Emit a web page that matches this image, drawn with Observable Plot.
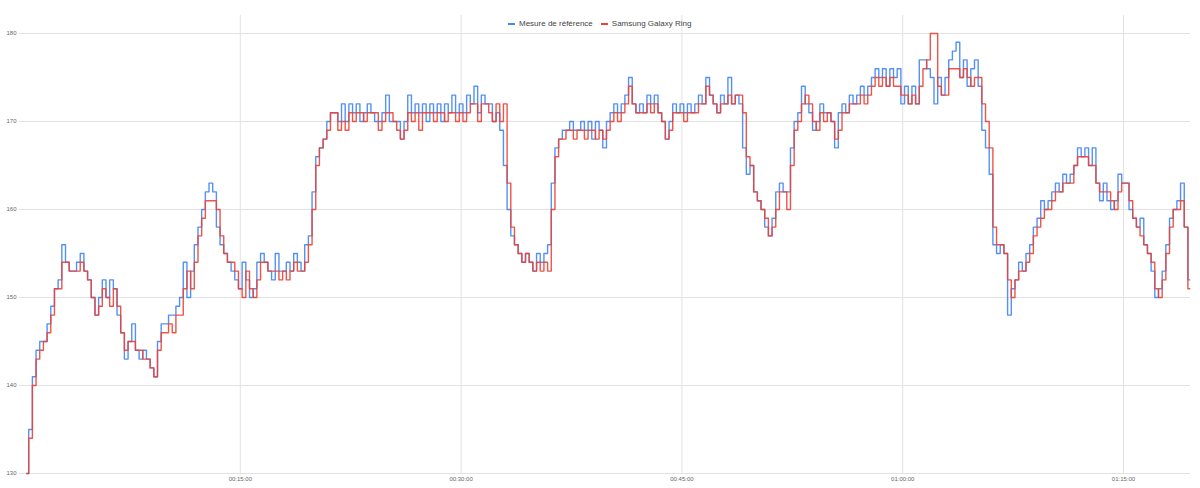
<!DOCTYPE html>
<html>
<head>
<meta charset="utf-8">
<script src="https://cdn.jsdelivr.net/npm/d3@7"></script>
<script src="https://cdn.jsdelivr.net/npm/@observablehq/plot@0.6"></script>
<style>
  html, body { margin: 0; padding: 0; background: #fff; }
  #wrap { position: relative; width: 1200px; height: 488px; font-family: Arial, "Liberation Sans", sans-serif; }
  #legend { position: absolute; top: 19px; left: 508px; display: flex; align-items: center; font-size: 8px; color: #444; line-height: 10px; white-space: nowrap; }
  #legend .sw { display: inline-block; width: 7px; height: 2.5px; margin-right: 4px; }
  #legend .item { display: flex; align-items: center; margin-right: 8px; }
</style>
</head>
<body>
<div id="wrap">
  <div id="chart"></div>
  <div id="legend"></div>
</div>
<script>
// Series names
const seriesNames = ["Mesure de référence", "Samsung Galaxy Ring"];
const seriesColors = ["#4285F4", "#EA4335"];

// Sampling: first sample time (s) and interval (s)
const startSec = 30;
const stepSec = 15;

// Reference measurement (bpm)
const reference = [
130,135,141,144,145,145,147,149,151,152,
156,154,153,153,154,155,153,152,150,148,
150,152,150,152,151,148,146,143,145,147,
144,143,144,143,142,141,145,147,147,148,
148,149,150,154,150,153,156,158,160,162,
163,162,158,156,155,154,153,152,151,154,
152,150,151,154,155,154,153,152,155,153,
153,154,153,155,154,153,156,157,162,166,
167,168,170,171,171,170,172,170,172,171,
172,170,171,172,171,170,170,171,173,170,
170,170,168,170,173,171,172,171,172,170,
172,171,172,170,172,171,173,171,172,171,
173,172,174,171,173,172,172,170,171,169,
165,160,157,156,155,154,155,154,153,155,
154,155,156,163,167,168,169,169,170,169,
169,170,169,170,168,170,169,167,170,171,
172,171,172,173,175,172,171,172,171,173,
172,173,171,170,168,170,172,171,172,171,
172,171,172,173,172,175,173,172,171,173,
172,175,172,173,172,167,164,165,162,161,
160,158,157,159,162,163,162,162,167,170,
171,174,172,171,169,170,172,171,171,170,
167,171,172,171,173,172,173,174,173,174,
175,176,175,176,174,176,175,176,172,174,
172,174,172,177,177,176,175,172,175,173,
175,177,178,179,175,177,174,176,177,174,
169,167,164,156,155,156,155,148,151,152,
154,153,155,156,158,159,161,160,161,162,
163,162,164,163,164,165,167,166,167,165,
167,163,161,163,161,160,161,164,163,163,
160,159,158,159,156,155,153,150,151,153,
156,159,160,161,163,158,152
];

// Samsung Galaxy Ring (bpm)
const ring = [
130,134,140,143,144,145,146,148,151,151,
154,154,153,153,153,154,153,152,150,148,
149,151,150,149,151,149,146,144,145,145,
144,144,143,143,142,141,144,146,146,147,
146,148,148,151,153,151,154,157,159,161,
161,161,160,157,155,154,154,153,151,150,
153,151,150,152,154,154,153,153,153,152,
153,152,153,154,153,153,154,156,160,165,
167,168,169,171,171,169,170,169,171,170,
171,171,170,171,171,171,169,170,171,171,
170,169,168,169,171,170,171,169,171,171,
171,170,171,171,170,171,171,170,171,170,
171,172,172,170,172,172,171,170,172,170,
172,163,158,156,155,154,155,154,153,154,
153,154,153,160,166,168,168,169,169,168,
169,169,168,169,169,168,169,168,169,170,
171,170,171,172,174,172,171,171,171,172,
171,172,171,170,168,169,171,171,171,170,
171,171,171,172,172,174,173,172,171,172,
172,173,172,173,173,171,166,165,162,161,
160,159,157,158,160,162,162,160,165,169,
170,172,173,172,170,169,171,170,171,170,
168,169,171,171,172,172,172,173,172,173,
174,175,174,175,174,175,174,174,173,173,
172,173,172,174,176,177,180,180,174,173,
173,176,176,176,175,176,175,174,175,175,
172,170,167,158,156,156,155,152,150,152,
153,153,154,155,157,158,159,160,160,161,
162,162,163,163,163,165,166,166,166,165,
165,163,162,162,162,161,160,162,163,163,
161,159,158,157,156,155,154,151,150,152,
155,158,160,160,161,158,151
];

// Axis ticks
const yTicks = [130, 140, 150, 160, 170, 180];
const xTicks = [900, 1800, 2700, 3600, 4500];
const xTickLabels = ["00:15:00", "00:30:00", "00:45:00", "01:00:00", "01:15:00"];

const toRows = (arr, name) => arr.map((v, i) => ({ t: startSec + i * stepSec, v, s: name }));
const refRows = toRows(reference, seriesNames[0]);
const ringRows = toRows(ring, seriesNames[1]);

const chart = Plot.plot({
  width: 1200,
  height: 488,
  marginLeft: 19,
  marginRight: 10,
  marginTop: 15,
  marginBottom: 15,
  style: { fontFamily: "Arial, 'Liberation Sans', sans-serif", fontSize: "6px", color: "#666", background: "#fff" },
  x: { type: "linear", domain: [0, 4773], label: null },
  y: { domain: [130, 182.045], label: null },
  marks: [
    Plot.gridY(yTicks, { stroke: "#e2e2e2", strokeOpacity: 1 }),
    Plot.gridX(xTicks, { stroke: "#e2e2e2", strokeOpacity: 1 }),
    Plot.axisY(yTicks, { tickSize: 0, tickPadding: 3, label: null, fill: "#666" }),
    Plot.axisX(xTicks, { tickSize: 0, tickPadding: 3, label: null, fill: "#666",
      tickFormat: d => xTickLabels[xTicks.indexOf(d)] }),
    Plot.line(refRows, { x: "t", y: "v", stroke: seriesColors[0], strokeWidth: 1.4, strokeOpacity: 0.9, curve: "step" }),
    Plot.line(ringRows, { x: "t", y: "v", stroke: seriesColors[1], strokeWidth: 1.4, strokeOpacity: 0.9, curve: "step" })
  ]
});
document.getElementById("chart").appendChild(chart);

const legend = document.getElementById("legend");
seriesNames.forEach((n, i) => {
  const it = document.createElement("span");
  it.className = "item";
  const sw = document.createElement("span");
  sw.className = "sw";
  sw.style.background = seriesColors[i];
  it.appendChild(sw);
  it.appendChild(document.createTextNode(n));
  legend.appendChild(it);
});
</script>
</body>
</html>
